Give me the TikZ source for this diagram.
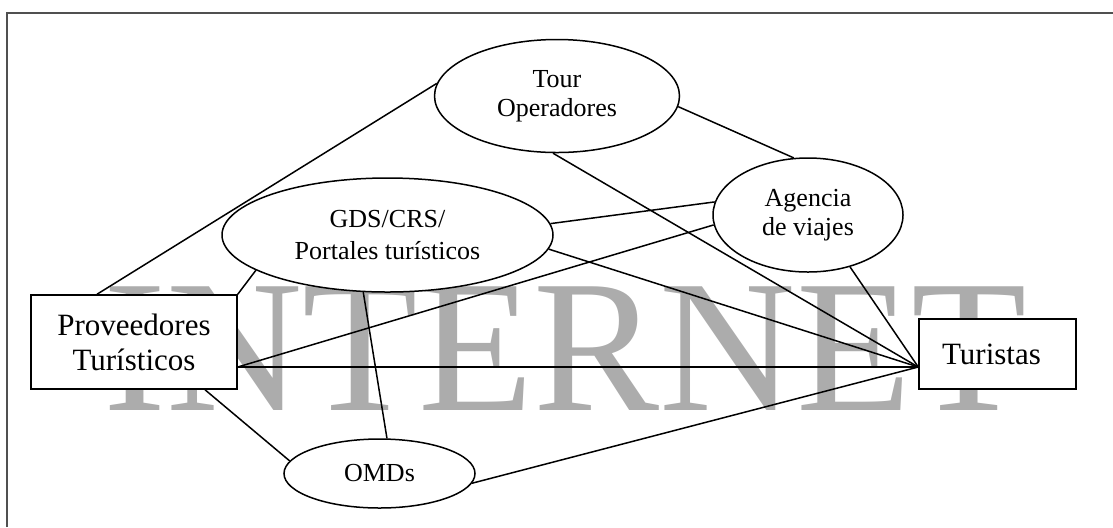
\documentclass[tikz,border=0pt]{standalone}
\usepackage{fontspec}
\setmainfont{Liberation Serif}
\usetikzlibrary{shapes.geometric}
\definecolor{marca}{RGB}{172,172,172}
\definecolor{marco}{RGB}{80,80,80}

\begin{document}
\begin{tikzpicture}[x=0.5pt,y=-0.5pt]
	\tikzstyle{oval}=[ellipse, draw=black, fill=white, line width=0.75pt, inner sep=0pt, align=center, font=\fontsize{13}{14.5}\selectfont]
	\tikzstyle{box}=[rectangle, draw=black, fill=white, line width=0.75pt, inner sep=0pt, align=center, font=\fontsize{15.5}{17.5}\selectfont]
	\tikzstyle{connect}=[line width=0.75pt]
	\useasboundingbox (0,0) rectangle (1113,527);
	% marco y marca de agua
	\draw[marco, line width=1pt] (7,527) -- (7,13) -- (1113,13);
	\node[anchor=base west, inner sep=0pt, text=marca, font=\fontsize{94.5}{94.5}\selectfont] (wm) at (103,410) {INTERNET};

	\node[box, minimum width=103pt, minimum height=47pt] (prov) at (134,342) {Proveedores\\Turísticos};
	\node[box, minimum width=78.5pt, minimum height=35pt] (tur) at (997.5,354) {\hspace*{-6pt}Turistas};
	\node[oval, minimum width=122.5pt, minimum height=56.5pt] (tour) at (557,96) {Tour\\Operadores};
	\node[oval, minimum width=165.5pt, minimum height=57pt, font=\fontsize{13}{16}\selectfont] (gds) at (387.5,235) {GDS/CRS/\\Portales turísticos};
	\node[oval, minimum width=95pt, minimum height=57pt] (agen) at (808,215) {Agencia\\de viajes};
	\node[oval, minimum width=95.5pt, minimum height=34.5pt] (omd) at (379.5,473.5) {OMDs};

	\coordinate (hub) at ([yshift=-6.5pt]tur.west);
	\coordinate (pout) at ([yshift=-12.5pt]prov.east);

	\path
	([xshift=-18.5pt]prov.north) edge [connect] (tour.174)
	(gds.195) edge [connect] (prov.north east)
	(pout) edge [connect] (agen.186)
	(pout) edge [connect] (hub)
	([xshift=35.5pt]prov.south) edge [connect] (omd.172.5)
	(gds.247.6) edge [connect] (omd.78)
	(omd.354) edge [connect] (hub)
	(gds.355.5) edge [connect] (hub)
	(gds.4) edge [connect] (agen.172)
	(tour.266) edge [connect] (hub)
	(tour.355) edge [connect] (agen.104)
	(agen.309) edge [connect] (hub);
\end{tikzpicture}
\end{document}
